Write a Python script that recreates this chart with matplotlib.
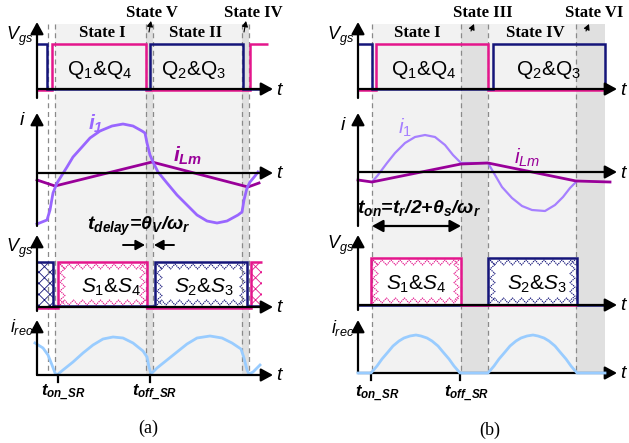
import numpy as np
import matplotlib
matplotlib.use('Agg')
import matplotlib.pyplot as plt
from matplotlib.patches import Rectangle

plt.rcParams['font.family'] = ['Liberation Sans', 'DejaVu Sans']
plt.rcParams['mathtext.fontset'] = 'custom'
plt.rcParams['mathtext.rm'] = 'Liberation Sans'
plt.rcParams['mathtext.it'] = 'Liberation Sans:italic'
plt.rcParams['mathtext.bf'] = 'Liberation Sans:bold:italic'
plt.rcParams['hatch.linewidth'] = 0.6

PINK = '#e4168c'
NAVY = '#15157a'
LAV = '#9966ff'
PURP = '#990099'
BLUE = '#99ccff'
LIGHT = '#f2f2f2'
DARK = '#e0e0e0'
DASH = '#8a8a8a'

# ---- panel (a): SR gate turned on/off by delay ----
a_axis_x = 37
a_tend = 273
a_dash = [48, 55, 146, 153, 242, 249]
a_light = (55, 249)
a_dark = [(146, 153), (242, 249)]

# primary gates (Q1&Q4 pink, Q2&Q3 navy)
a_q14_t = [37, 52, 52, 146, 146, 250, 250, 268]
a_q14_s = [0, 0, 1, 1, 0, 0, 1, 1]
a_q23_t = [37, 47, 47, 150, 150, 243, 243, 270]
a_q23_s = [1, 1, 0, 0, 1, 1, 0, 0]

# resonant current i1 and magnetising current iLm
a_i1_t = [37, 47, 50, 53, 57, 62, 67, 73, 82, 90, 100, 112, 123, 133, 142, 145,
          147, 150, 153, 158, 167, 177, 187, 197, 207, 217, 227, 238, 242, 244,
          247, 250, 255, 258]
a_i1_v = [224, 220, 210, 193, 183, 175, 167, 157, 147, 138, 131, 126, 124, 126,
          131, 133, 143, 155, 162, 172, 183, 195, 205, 215, 221, 223, 221, 215,
          212, 200, 188, 182, 176, 172]
a_ilm_t = [37, 55, 152, 248, 259]
a_ilm_v = [180, 186, 162, 187, 183]

# SR gates (S1&S4 pink, S2&S3 navy)
a_s14_t = [37, 58, 58, 147, 147, 251, 251, 262]
a_s14_s = [0, 0, 1, 1, 0, 0, 1, 1]
a_s23_t = [37, 53, 53, 155, 155, 247, 247, 262]
a_s23_s = [1, 1, 0, 0, 1, 1, 0, 0]

# rectified current
a_irec_t = [35, 43, 48, 52, 55, 57, 63, 73, 83, 93, 103, 113, 123, 133, 143, 147,
            149, 151, 157, 167, 177, 187, 197, 210, 222, 232, 241, 244, 247, 249,
            253, 260]
a_irec_v = [343, 348, 355, 365, 373, 375, 370, 362, 353, 345, 339, 337, 338, 343,
            351, 357, 367, 374, 368, 360, 352, 344, 338, 336, 338, 343, 349, 358,
            370, 374, 372, 365]

# ---- panel (b): SR conduction fixed at t_on ----
b_axis_x = 358
b_tend = 617
b_dash = [372, 461, 488, 576]
b_light = (372, 605)
b_dark = [(461, 488), (576, 605)]

b_q14_t = [358, 376, 376, 488, 488, 607]
b_q14_s = [0, 0, 1, 1, 0, 0]
b_q23_t = [358, 372, 372, 493, 493, 605, 605]
b_q23_s = [1, 1, 0, 0, 1, 1, 0]

b_i1_t = [372, 378, 387, 395, 405, 415, 425, 435, 445, 453, 461, 488, 495, 502,
          512, 522, 532, 545, 555, 563, 570, 576]
b_i1_v = [182, 175, 163, 153, 143, 137, 135, 137, 145, 155, 163, 163, 175, 187,
          198, 206, 210, 211, 205, 197, 188, 182]
b_ilm_t = [358, 372, 461, 488, 576, 610]
b_ilm_v = [180, 182, 164, 163, 181, 182]

b_s14_t = [371, 371, 461, 461, 577]
b_s14_s = [0, 1, 1, 0, 0]
b_s23_t = [358, 488, 488, 577, 577, 605]
b_s23_s = [0, 0, 1, 1, 0, 0]

b_irec_t = [358, 371, 377, 382, 388, 393, 399, 404, 410, 416, 421, 427, 432, 438,
            443, 449, 454, 460, 488, 494, 499, 505, 510, 516, 521, 527, 533, 538,
            544, 549, 555, 560, 566, 571, 577, 605]
b_irec_v = [373, 373, 366, 359, 352, 346, 341, 338, 336, 335, 336, 338, 341, 346,
            352, 359, 366, 373, 373, 366, 359, 352, 346, 341, 338, 336, 335, 336,
            338, 341, 346, 352, 359, 366, 373, 373]

# vertical levels of the four traces
TOP_HI, TOP_LO = 44, 89
I_ZERO_A, I_ZERO_B = 173, 172
SR_HI_A, SR_LO_A = 262, 307
SR_HI_B, SR_LO_B = 258, 305
REC_A, REC_B = 375, 373

fig = plt.figure(figsize=(6.29, 4.43), dpi=100)
ax = fig.add_axes([0, 0, 1, 1])
ax.set_xlim(0, 629)
ax.set_ylim(443, 0)
ax.axis('off')


def arrow(x0, y0, x1, y1, lw=1.6, ms=13, z=6):
    ax.annotate('', xy=(x1, y1), xytext=(x0, y0),
                arrowprops=dict(arrowstyle='-|>,head_length=0.55,head_width=0.3',
                                color='k', lw=lw, mutation_scale=ms,
                                shrinkA=0, shrinkB=0), zorder=z)


def gate(ts, states, lo, hi, color, z=4):
    ys = [hi if s else lo for s in states]
    ax.plot(ts, ys, color=color, lw=1.8, zorder=z, solid_joinstyle='miter',
            solid_capstyle='butt')


def sr_box(x0, x1, hi, lo, color):
    ax.add_patch(Rectangle((x0, hi), x1 - x0, lo - hi, facecolor='white',
                           edgecolor='none', zorder=2))
    if x1 - x0 < 20:
        ax.add_patch(Rectangle((x0, hi), x1 - x0, lo - hi, facecolor='none',
                               edgecolor=color, hatch='xxx', lw=0, zorder=2.5))
        return
    # zigzag trim along the inner edges
    st = dict(color=color, lw=0.8, ls=(0, (1.2, 0.8)), zorder=2.5)
    xs = np.arange(x0 + 2, x1 - 1, 4.5)
    zz = np.arange(len(xs)) % 2
    ax.plot(xs, hi + 2 + 5 * zz, **st)
    ax.plot(xs, lo - 2 - 5 * zz, **st)
    ys = np.arange(hi + 2, lo - 1, 4.5)
    zz = np.arange(len(ys)) % 2
    ax.plot(x0 + 2 + 5 * zz, ys, **st)
    ax.plot(x1 - 2 - 5 * zz, ys, **st)


def backdrop(light, darks, dashes, bottom):
    ax.add_patch(Rectangle((light[0], 24), light[1] - light[0], bottom - 24,
                           facecolor=LIGHT, edgecolor='none', zorder=0))
    for d0, d1 in darks:
        ax.add_patch(Rectangle((d0, 24), d1 - d0, bottom - 24,
                               facecolor=DARK, edgecolor='none', zorder=0.5))
    for x in dashes:
        ax.plot([x, x], [24, bottom], color=DASH, lw=0.9, ls=(0, (4, 3)), zorder=3)


def axes_set(x0, tend, tops, zeros, bottoms):
    for top, zero, bot in zip(tops, zeros, bottoms):
        arrow(x0, bot, x0, top)
        arrow(x0, zero, tend, zero)
        ax.text(tend + 3, zero + 1, 't', fontsize=14, style='italic',
                ha='left', va='center', zorder=7)


sans = dict(zorder=7)
bold_it = dict(weight='bold', style='italic', zorder=7)
serif_b = dict(family='Liberation Serif', weight='bold', fontsize=12,
               ha='center', va='center', zorder=7)

# ---------- panel (a) ----------
backdrop(a_light, a_dark, a_dash, REC_A)
axes_set(a_axis_x, a_tend, [22, 113, 235, 320], [TOP_LO, I_ZERO_A, SR_LO_A, REC_A],
         [98, 226, 311, REC_A])

gate(a_q14_t, a_q14_s, TOP_LO + 1, TOP_HI, PINK)
gate(a_q23_t, a_q23_s, TOP_LO, TOP_HI, NAVY, z=4.5)
ax.text(100, 70, r'Q$_1$&Q$_4$', fontsize=15, ha='center', va='center', **sans)
ax.text(193, 70, r'Q$_2$&Q$_3$', fontsize=15, ha='center', va='center', **sans)
ax.text(102, 33, 'State I', **serif_b)
ax.text(196, 33, 'State II', **serif_b)
ax.text(152, 13, 'State V', **serif_b)
ax.text(253, 13, 'State IV', **serif_b)
for x in [150, 245]:
    arrow(x - 1, 32, x + 1, 21, lw=0.8, ms=6)

ax.plot(a_ilm_t, a_ilm_v, color=PURP, lw=2.0, zorder=4)
ax.plot(a_i1_t, a_i1_v, color=LAV, lw=2.0, zorder=4.5)
ax.text(96, 124, r'$\mathbf{i_1}$', fontsize=15, color=LAV, ha='center', va='center', **sans)
ax.text(188, 156, r'$\mathbf{i_{Lm}}$', fontsize=15, color=PURP, ha='center', va='center', **sans)

for x0, x1, c in [(37, 53, NAVY), (58, 147, PINK), (155, 247, NAVY), (251, 262, PINK)]:
    sr_box(x0, x1, SR_HI_A, SR_LO_A, c)
gate(a_s14_t, a_s14_s, SR_LO_A + 1, SR_HI_A, PINK)
gate(a_s23_t, a_s23_s, SR_LO_A - 1, SR_HI_A, NAVY, z=4.5)
ax.text(111, 287, r'$S_1$&$S_4$', fontsize=15, ha='center', va='center', **sans)
ax.text(204, 287, r'$S_2$&$S_3$', fontsize=15, ha='center', va='center', **sans)
ax.text(139, 226, r'$\mathbf{t_{delay}}$=$\mathbf{\theta_V}$/$\mathbf{\omega_r}$',
        fontsize=14, ha='center', va='center', **bold_it)
arrow(123, 245, 145, 245, lw=1.4, ms=10)
arrow(174, 245, 154, 245, lw=1.4, ms=10)

ax.plot(a_irec_t, a_irec_v, color=BLUE, lw=2.0, zorder=4)
for x in [58, 150]:
    ax.plot([x, x], [REC_A, REC_A + 7], color='k', lw=1.6, zorder=6)
ax.text(63, 393, r'$\mathbf{t_{on\_SR}}$', fontsize=12, ha='center', va='center', **sans)
ax.text(155, 393, r'$\mathbf{t_{off\_SR}}$', fontsize=12, ha='center', va='center', **sans)
ax.text(148, 428, '(a)', family='Liberation Serif', fontsize=13, ha='center', va='center')

ax.text(33, 36, r'$V_{gs}$', fontsize=13, ha='right', va='center', **sans)
ax.text(22, 120, r'$i$', fontsize=14, ha='center', va='center', **sans)
ax.text(33, 248, r'$V_{gs}$', fontsize=13, ha='right', va='center', **sans)
ax.text(33, 327, r'$i_{rec}$', fontsize=13, ha='right', va='center', **sans)

# ---------- panel (b) ----------
backdrop(b_light, b_dark, b_dash, REC_B)
axes_set(b_axis_x, b_tend, [22, 113, 235, 320], [TOP_LO, I_ZERO_B, SR_LO_B, REC_B],
         [98, 226, 310, REC_B])

gate(b_q14_t, b_q14_s, TOP_LO + 1, TOP_HI, PINK)
gate(b_q23_t, b_q23_s, TOP_LO, TOP_HI, NAVY, z=4.5)
ax.text(424, 70, r'Q$_1$&Q$_4$', fontsize=15, ha='center', va='center', **sans)
ax.text(548, 70, r'Q$_2$&Q$_3$', fontsize=15, ha='center', va='center', **sans)
ax.text(417, 33, 'State I', **serif_b)
ax.text(535, 33, 'State IV', **serif_b)
ax.text(483, 13, 'State III', **serif_b)
ax.text(565, 13, 'State VI', **dict(serif_b, ha='left'))
for x in [473, 588]:
    arrow(x - 2, 31, x + 1, 24, lw=0.8, ms=6)

ax.plot(b_ilm_t, b_ilm_v, color=PURP, lw=2.0, zorder=4.5)
ax.plot(b_i1_t, b_i1_v, color='#a680ff', lw=1.6, zorder=4)
ax.text(405, 128, r'$i_1$', fontsize=15, color='#a680ff', ha='center', va='center', **sans)
ax.text(527, 158, r'$i_{Lm}$', fontsize=15, color=PURP, ha='center', va='center', **sans)
ax.text(357, 208,
        r'$\mathbf{t_{on}}$=$\mathbf{t_r}$/2+$\mathbf{\theta_s}$/$\mathbf{\omega_r}$',
        fontsize=14, ha='left', va='center', **bold_it)
ax.annotate('', xy=(461, 226), xytext=(372, 226),
            arrowprops=dict(arrowstyle='<|-|>,head_length=0.55,head_width=0.3',
                            color='k', lw=1.6, mutation_scale=12, shrinkA=0, shrinkB=0),
            zorder=6)

for x0, x1, c in [(371, 461, PINK), (488, 577, NAVY)]:
    sr_box(x0, x1, SR_HI_B, SR_LO_B, c)
gate(b_s23_t, b_s23_s, SR_LO_B, SR_HI_B, NAVY)
gate(b_s14_t, b_s14_s, SR_LO_B, SR_HI_B, PINK, z=4.5)
ax.text(416, 284, r'$S_1$&$S_4$', fontsize=15, ha='center', va='center', **sans)
ax.text(537, 284, r'$S_2$&$S_3$', fontsize=15, ha='center', va='center', **sans)

ax.plot(b_irec_t, b_irec_v, color=BLUE, lw=2.0, zorder=6.5)
for x in [371, 460]:
    ax.plot([x, x], [REC_B, REC_B + 7], color='k', lw=1.6, zorder=6)
ax.text(377, 394, r'$\mathbf{t_{on\_SR}}$', fontsize=12, ha='center', va='center', **sans)
ax.text(467, 394, r'$\mathbf{t_{off\_SR}}$', fontsize=12, ha='center', va='center', **sans)
ax.text(490, 430, '(b)', family='Liberation Serif', fontsize=13, ha='center', va='center')

ax.text(354, 36, r'$V_{gs}$', fontsize=13, ha='right', va='center', **sans)
ax.text(343, 125, r'$i$', fontsize=14, ha='center', va='center', **sans)
ax.text(354, 245, r'$V_{gs}$', fontsize=13, ha='right', va='center', **sans)
ax.text(354, 328, r'$i_{rec}$', fontsize=13, ha='right', va='center', **sans)

fig.savefig('out.png', dpi=100)
